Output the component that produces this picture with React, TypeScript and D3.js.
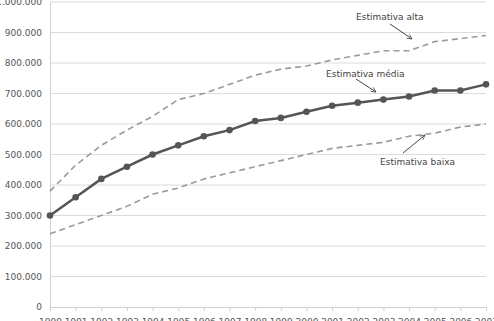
import React, { useRef, useEffect } from 'react';
import * as d3 from 'd3';

const years = [1990, 1991, 1992, 1993, 1994, 1995, 1996, 1997, 1998, 1999, 2000, 2001, 2002, 2003, 2004, 2005, 2006, 2007];
const media = [300, 360, 420, 460, 500, 530, 560, 580, 610, 620, 640, 660, 670, 680, 690, 710, 710, 730];
const alta = [380, 465, 530, 580, 625, 680, 700, 730, 760, 780, 790, 810, 825, 840, 840, 870, 880, 890];
const baixa = [240, 270, 300, 330, 370, 390, 420, 440, 460, 480, 500, 520, 530, 540, 560, 570, 590, 600];
const yTicks = [0, 100000, 200000, 300000, 400000, 500000, 600000, 700000, 800000, 900000, 1000000];

const annotations = [
  { label: 'Estimativa alta', tx: 356, ty: 20, from: [390, 24], to: [412, 39] },
  { label: 'Estimativa média', tx: 326, ty: 77, from: [356, 79], to: [376, 92] },
  { label: 'Estimativa baixa', tx: 380, ty: 165, from: [403, 153], to: [425, 135] },
];

export default function App() {
  const svgRef = useRef<SVGSVGElement>(null);
  const width = 494;
  const height = 321;
  const margin = { top: 2, right: 8, bottom: 14, left: 50 };

  useEffect(() => {
    const svg = d3.select(svgRef.current);
    svg.selectAll('*').remove();

    const font = 'Verdana, "DejaVu Sans", sans-serif';
    const locale = d3.formatLocale({ decimal: ',', thousands: '.', grouping: [3], currency: ['', ''] });
    const fmt = locale.format(',');

    const x = d3.scalePoint<number>()
      .domain(years)
      .range([margin.left, width - margin.right]);

    const y = d3.scaleLinear()
      .domain([0, 1000000])
      .range([height - margin.bottom, margin.top]);

    // gridlines
    svg.append('g')
      .selectAll('line')
      .data(yTicks.slice(1))
      .join('line')
      .attr('x1', margin.left)
      .attr('x2', width - margin.right)
      .attr('y1', d => y(d))
      .attr('y2', d => y(d))
      .attr('stroke', '#dcdcdc')
      .attr('stroke-width', 1);

    // y axis
    svg.append('g')
      .attr('transform', `translate(${margin.left},0)`)
      .call(d3.axisLeft(y).tickValues(yTicks).tickFormat(d => fmt(+d)).tickSize(0).tickPadding(8))
      .call(g => g.select('.domain').attr('stroke', '#d0d0d0'))
      .call(g => g.selectAll('.tick text')
        .attr('fill', '#555')
        .attr('font-size', 9)
        .attr('font-family', font));

    // x axis
    svg.append('g')
      .attr('transform', `translate(0,${height - margin.bottom})`)
      .call(d3.axisBottom(x).tickSize(4).tickSizeOuter(0).tickPadding(8))
      .call(g => g.select('.domain').attr('stroke', '#d0d0d0'))
      .call(g => g.selectAll('.tick line').attr('stroke', '#d0d0d0'))
      .call(g => g.selectAll('.tick text')
        .attr('fill', '#555')
        .attr('font-size', 9)
        .attr('font-family', font));

    const line = d3.line<number>()
      .x((_, i) => x(years[i]) as number)
      .y(d => y(d * 1000));

    // dashed estimates
    [alta, baixa].forEach(series => {
      svg.append('path')
        .datum(series)
        .attr('fill', 'none')
        .attr('stroke', '#9a9a9a')
        .attr('stroke-width', 1.6)
        .attr('stroke-dasharray', '6,4')
        .attr('d', line);
    });

    // medium estimate
    svg.append('path')
      .datum(media)
      .attr('fill', 'none')
      .attr('stroke', '#555')
      .attr('stroke-width', 2.5)
      .attr('d', line);

    svg.append('g')
      .selectAll('circle')
      .data(media)
      .join('circle')
      .attr('cx', (_, i) => x(years[i]) as number)
      .attr('cy', d => y(d * 1000))
      .attr('r', 3.3)
      .attr('fill', '#555');

    // annotations
    svg.append('defs').append('marker')
      .attr('id', 'arrow')
      .attr('viewBox', '0 0 10 10')
      .attr('refX', 9)
      .attr('refY', 5)
      .attr('markerWidth', 6)
      .attr('markerHeight', 6)
      .attr('orient', 'auto')
      .append('path')
      .attr('d', 'M1,1 L9,5 L1,9')
      .attr('fill', 'none')
      .attr('stroke', '#444')
      .attr('stroke-width', 1.2);

    const ann = svg.append('g');
    annotations.forEach(a => {
      ann.append('text')
        .attr('x', a.tx)
        .attr('y', a.ty)
        .attr('fill', '#444')
        .attr('font-size', 9)
        .attr('font-family', font)
        .text(a.label);
      ann.append('line')
        .attr('x1', a.from[0])
        .attr('y1', a.from[1])
        .attr('x2', a.to[0])
        .attr('y2', a.to[1])
        .attr('stroke', '#444')
        .attr('stroke-width', 1)
        .attr('marker-end', 'url(#arrow)');
    });
  }, []);

  return (
    <svg
      ref={svgRef}
      width={width}
      height={height}
      style={{ position: 'absolute', left: 0, top: 0, background: '#fff' }}
    />
  );
}
